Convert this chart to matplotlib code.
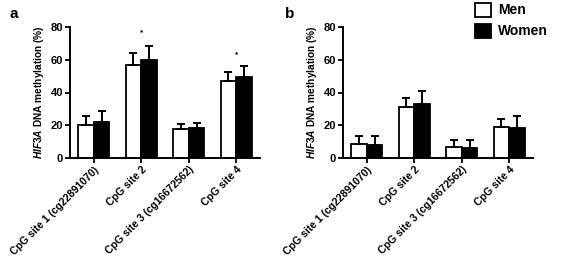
import matplotlib
matplotlib.use("Agg")
import matplotlib.pyplot as plt
import numpy as np

plt.rcParams['font.family'] = ['Liberation Sans', 'DejaVu Sans']
plt.rcParams['font.weight'] = 'bold'
plt.rcParams['mathtext.fontset'] = 'custom'
plt.rcParams['mathtext.bfit'] = 'Liberation Sans:italic:bold'
plt.rcParams['mathtext.it'] = 'Liberation Sans:italic:bold'
plt.rcParams['mathtext.rm'] = 'Liberation Sans:bold'

categories = ["CpG site 1 (cg22891070)", "CpG site 2", "CpG site 3 (cg16672562)", "CpG site 4"]
groups = ["Men", "Women"]

a_men = [20, 57, 17.5, 47]
a_men_err = [5.7, 7.2, 3.2, 5.5]
a_women = [22, 60, 18, 49.5]
a_women_err = [6.7, 8.3, 3.4, 6.5]
a_star = [None, 76.5, None, 63]

b_men = [8.4, 31.4, 6.8, 19]
b_men_err = [5.0, 5.1, 4.1, 4.8]
b_women = [8, 33, 6, 18]
b_women_err = [5.4, 8.2, 4.9, 7.6]

yticks = [0, 20, 40, 60, 80]

fig = plt.figure(figsize=(5.67, 2.62), dpi=100)
W, H = 567, 262

def make_ax(x0, x1):
    y0, y1 = 157.7, 27.3
    return fig.add_axes([x0 / W, 1 - y0 / H, (x1 - x0) / W, (y0 - y1) / H])

axA = make_ax(70, 260)
axB = make_ax(343, 533)

bw = 0.33
x = np.arange(len(categories))

def draw(ax, men, men_err, women, women_err, stars=None):
    ax.bar(x - bw / 2, men, bw, color='white', edgecolor='black', linewidth=1.3,
           yerr=[np.zeros(len(men)), men_err], capsize=3.2,
           error_kw=dict(elinewidth=1.4, capthick=1.4, ecolor='black'), label=groups[0], zorder=2)
    ax.bar(x + bw / 2, women, bw, color='black', edgecolor='black', linewidth=1.3,
           yerr=[np.zeros(len(women)), women_err], capsize=3.2,
           error_kw=dict(elinewidth=1.4, capthick=1.4, ecolor='black'), label=groups[1], zorder=2)
    ax.set_xlim(-0.5, 3.5)
    ax.set_ylim(0, 80)
    ax.set_yticks(yticks)
    ax.set_yticklabels([str(v) for v in yticks], fontsize=8, fontweight='bold')
    ax.set_xticks(x)
    ax.set_xticklabels(categories, rotation=45, ha='right', rotation_mode='anchor',
                       fontsize=7.6, fontweight='bold')
    for s in ['top', 'right']:
        ax.spines[s].set_visible(False)
    for s in ['left', 'bottom']:
        ax.spines[s].set_linewidth(1.4)
    ax.tick_params(axis='both', width=1.3, length=3.5, pad=1.5)
    ax.set_ylabel(r'$\mathit{HIF3A}$ DNA methylation (%)', fontsize=7.3, fontweight='bold', labelpad=3)
    if stars:
        for xi, s in zip(x, stars):
            if s is not None:
                ax.text(xi, s, '*', ha='center', va='center', fontsize=6, fontweight='bold')

draw(axA, a_men, a_men_err, a_women, a_women_err, a_star)
draw(axB, b_men, b_men_err, b_women, b_women_err)

fig.text(10 / W, 1 - 14 / H, 'a', fontsize=11, fontweight='bold', va='center', ha='left')
fig.text(285 / W, 1 - 14 / H, 'b', fontsize=11, fontweight='bold', va='center', ha='left')

axB.legend(loc='upper left', bbox_to_anchor=(474 / W, 1 - 1.5 / H), bbox_transform=fig.transFigure,
           frameon=False, prop=dict(weight='bold', size=10),
           handlelength=1.15, handleheight=1.15, handletextpad=0.5, labelspacing=0.45,
           borderaxespad=0, borderpad=0.1)

fig.savefig('out.png', dpi=100)
